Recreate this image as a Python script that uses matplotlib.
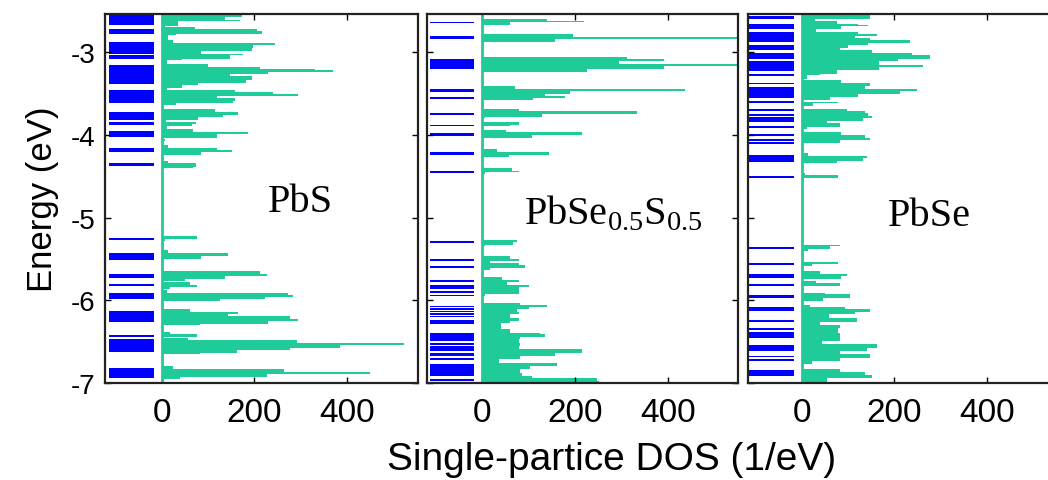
import numpy as np
import matplotlib
matplotlib.use("Agg")
import matplotlib.pyplot as plt

plt.rcParams['font.family'] = ['Liberation Sans', 'DejaVu Sans']
plt.rcParams['mathtext.fontset'] = 'custom'
plt.rcParams['mathtext.rm'] = 'Liberation Serif'
plt.rcParams['axes.unicode_minus'] = False

# ---- data (energies in eV, DOS in 1/eV) ----
names = ['PbS', r'PbSe$_{\mathrm{0.5}}$S$_{\mathrm{0.5}}$', 'PbSe']

# green DOS histograms: bin edges (top -> bottom) and values
pbs_edges = [-2.54, -2.578, -2.612, -2.622, -2.68, -2.70, -2.72, -2.745, -2.78, -2.80,
             -2.86, -2.885, -2.92, -2.95, -2.985, -3.02, -3.04, -3.08, -3.10, -3.14,
             -3.18, -3.20, -3.22, -3.245, -3.265, -3.285, -3.34, -3.37, -3.40, -3.43,
             -3.455, -3.48, -3.51, -3.53, -3.56, -3.59, -3.62, -3.64, -3.69, -3.72,
             -3.76, -3.79, -3.825, -3.845, -3.87, -3.90, -3.93, -3.965, -3.995, -4.035,
             -4.05, -4.075, -4.12, -4.155, -4.185, -4.21, -4.24, -4.32, -4.345, -4.385,
             -4.405, -5.22, -5.26, -5.28, -5.39, -5.43, -5.47, -5.50, -5.51, -5.65,
             -5.683, -5.71, -5.74, -5.765, -5.78, -5.81, -5.835, -5.86, -5.88, -5.91,
             -5.94, -5.965, -5.99, -6.012, -6.11, -6.14, -6.165, -6.193, -6.221, -6.253,
             -6.285, -6.30, -6.38, -6.414, -6.442, -6.454, -6.486, -6.514, -6.542, -6.574,
             -6.602, -6.634, -6.651, -6.795, -6.835, -6.863, -6.895, -6.924, -6.956, -7.0]
pbs_dos = [173, 137, 169, 36, 8, 72, 205, 216, 32, 14,
           25, 245, 198, 194, 86, 176, 147, 43, 11, 100,
           212, 331, 370, 230, 147, 194, 183, 79, 43, 11,
           158, 241, 295, 119, 158, 155, 32, 4, 115, 165,
           133, 79, 10, 75, 65, 11, 68, 187, 119, 0,
           7, 0, 14, 119, 151, 86, 0, 14, 75, 68,
           0, 76, 7, 0, 14, 144, 86, 5, 0, 212,
           227, 137, 50, 0, 61, 76, 18, 0, 11, 273,
           284, 223, 126, 0, 61, 165, 144, 277, 295, 230,
           83, 0, 18, 76, 0, 58, 291, 522, 385, 277,
           162, 83, 0, 25, 263, 450, 227, 40, 5]

mix_edges = [-2.54, -2.598, -2.63, -2.64, -2.679, -2.779, -2.819, -2.84, -2.88, -3.055,
             -3.06, -3.08, -3.108, -3.141, -3.169, -3.201, -3.241, -3.414, -3.442, -3.474,
             -3.502, -3.53, -3.554, -3.582, -3.683, -3.711, -3.755, -3.787, -3.80, -3.845,
             -3.851, -3.88, -3.90, -3.94, -3.97, -4.00, -4.036, -4.173, -4.205, -4.245,
             -4.273, -4.406, -4.434, -4.454, -4.47, -5.269, -5.297, -5.33, -5.35, -5.47,
             -5.498, -5.52, -5.55, -5.578, -5.61, -5.63, -5.723, -5.751, -5.78, -5.811,
             -5.843, -5.924, -5.95, -6.03, -6.06, -6.08, -6.11, -6.14, -6.17, -6.21,
             -6.245, -6.273, -6.35, -6.39, -6.414, -6.442, -6.474, -6.514, -6.554, -6.594,
             -6.634, -6.674, -6.714, -6.763, -6.795, -6.835, -6.875, -6.916, -6.944, -6.976,
             -7.0]
mix_dos = [0, 139, 218, 60, 0, 196, 600, 157, 0, 6,
           311, 390, 293, 600, 390, 225, 0, 71, 437, 189,
           135, 178, 110, 0, 78, 333, 128, 5, 0, 14,
           78, 60, 0, 50, 214, 107, 0, 32, 143, 57,
           0, 64, 78, 6, 0, 75, 67, 5, 0, 60,
           78, 17, 78, 92, 17, 0, 42, 78, 53, 100,
           78, 5, 0, 82, 139, 100, 75, 78, 60, 78,
           60, 40, 60, 125, 135, 82, 78, 82, 78, 214,
           157, 82, 35, 161, 103, 82, 85, 107, 247, 250]

pbse_edges = [-2.54, -2.558, -2.598, -2.63, -2.663, -2.675, -2.687, -2.727, -2.759, -2.779,
              -2.807, -2.831, -2.859, -2.888, -2.92, -2.952, -2.98, -3.012, -3.04, -3.08,
              -3.112, -3.153, -3.181, -3.221, -3.261, -3.281, -3.321, -3.341, -3.369, -3.41,
              -3.442, -3.474, -3.502, -3.542, -3.582, -3.602, -3.622, -3.65, -3.683, -3.715,
              -3.743, -3.771, -3.803, -3.835, -3.863, -3.904, -3.932, -3.972, -4.004, -4.036,
              -4.064, -4.104, -4.124, -4.225, -4.253, -4.285, -4.317, -4.345, -4.466, -4.486,
              -4.526, -4.546, -5.329, -5.349, -5.378, -5.402, -5.538, -5.562, -5.59, -5.651,
              -5.683, -5.71, -5.739, -5.771, -5.791, -5.831, -5.912, -5.924, -5.972, -6.012,
              -6.06, -6.084, -6.10, -6.141, -6.165, -6.213, -6.261, -6.30, -6.34, -6.394,
              -6.494, -6.534, -6.574, -6.614, -6.655, -6.695, -6.735, -6.775, -6.835, -6.867,
              -6.908, -6.936, -7.0]
pbse_dos = [0, 148, 29, 76, 122, 144, 86, 32, 122, 162,
            115, 148, 234, 144, 101, 83, 151, 238, 277, 209,
            166, 263, 166, 76, 40, 11, 0, 86, 148, 137,
            249, 213, 122, 61, 0, 79, 25, 0, 97, 137,
            144, 151, 133, 54, 83, 11, 0, 86, 137, 148,
            83, 5, 0, 14, 141, 133, 76, 0, 7, 79,
            5, 0, 83, 61, 14, 0, 79, 22, 0, 40,
            97, 86, 0, 30, 83, 0, 50, 105, 47, 0,
            18, 94, 148, 115, 60, 119, 40, 83, 79, 83,
            43, 162, 141, 83, 148, 83, 22, 0, 83, 137,
            151, 54]

# blue eigenvalue bands: (top, bottom) energies
pbs_levels = [(-2.538, -2.679), (-2.727, -2.779), (-2.88, -3.02), (-3.04, -3.08),
              (-3.16, -3.39), (-3.462, -3.622), (-3.723, -3.823), (-3.843, -3.876),
              (-3.952, -4.024), (-4.157, -4.205), (-4.345, -4.378),
              (-5.245, -5.262), (-5.43, -5.51), (-5.68, -5.73), (-5.807, -5.824),
              (-5.91, -5.98), (-6.13, -6.26), (-6.415, -6.44), (-6.47, -6.62), (-6.82, -6.94)]
mix_levels = [(-2.632, -2.646), (-2.811, -2.847), (-3.08, -3.209), (-3.442, -3.482),
              (-3.547, -3.561), (-3.731, -3.763), (-3.877, -3.891), (-3.984, -4.016),
              (-4.205, -4.245), (-4.439, -4.453),
              (-5.29, -5.305), (-5.503, -5.517), (-5.583, -5.597), (-5.755, -5.77),
              (-5.815, -5.83), (-5.844, -5.858), (-5.885, -5.90), (-5.932, -5.947),
              (-6.065, -6.079), (-6.093, -6.107), (-6.126, -6.14), (-6.158, -6.172),
              (-6.186, -6.20), (-6.233, -6.293), (-6.394, -6.494), (-6.515, -6.529),
              (-6.554, -6.614), (-6.635, -6.675), (-6.698, -6.712), (-6.775, -6.916),
              (-6.95, -6.964)]
pbse_levels = [(-2.57, -2.60), (-2.66, -2.72), (-2.76, -2.88), (-2.91, -2.98),
               (-3.01, -3.08), (-3.11, -3.23), (-3.263, -3.277), (-3.37, -3.39),
               (-3.42, -3.56), (-3.593, -3.607), (-3.69, -3.71), (-3.748, -3.762),
               (-3.79, -3.84), (-3.893, -3.907), (-3.993, -4.007), (-4.049, -4.063),
               (-4.093, -4.107), (-4.25, -4.33), (-4.503, -4.517),
               (-5.354, -5.368), (-5.555, -5.569), (-5.683, -5.731), (-5.804, -5.818),
               (-5.932, -5.972), (-6.084, -6.133), (-6.238, -6.252), (-6.341, -6.365),
               (-6.382, -6.462), (-6.542, -6.614), (-6.668, -6.682), (-6.708, -6.722),
               (-6.847, -6.916)]

edges_all = [pbs_edges, mix_edges, pbse_edges]
dos_all = [pbs_dos, mix_dos, pbse_dos]
levels_all = [pbs_levels, mix_levels, pbse_levels]

green = '#1fcc99'
blue = '#0000ff'

fig = plt.figure(figsize=(10.48, 4.81), dpi=100)
boxes = [[0.1002, 0.2017, 0.2987, 0.7672],
         [0.4074, 0.2017, 0.2968, 0.7672],
         [0.7137, 0.2017, 0.2987, 0.7672]]
xlims = [(-122, 553), (-119, 550), (-116, 560)]
label_pos = [(0.623, 0.493), (0.598, 0.463), (0.581, 0.455)]

for i in range(3):
    ax = fig.add_axes(boxes[i])
    e = np.array(edges_all[i])[::-1]
    d = np.array(dos_all[i])[::-1]
    # histogram as one filled step outline
    ax.stairs(d, e, orientation='horizontal', fill=True, baseline=0,
              color=green, linewidth=0)
    lv = np.array(levels_all[i])
    # thin levels get a minimum drawn thickness so they read as ~2 px lines
    thick = np.maximum(lv[:, 0] - lv[:, 1], 0.022)
    ax.barh(lv[:, 0], 96, height=-thick, left=-113, align='edge',
            color=blue, linewidth=0)
    ax.axvline(0, color=green, lw=2)
    ax.set_xlim(*xlims[i])
    ax.set_ylim(-7, -2.54)
    ax.set_xticks([0, 200, 400])
    ax.set_yticks([-7, -6, -5, -4, -3])
    ax.tick_params(direction='in', top=True, right=True, length=4, width=1,
                   pad=10)
    ax.tick_params(axis='x', labelsize=24)
    ax.tick_params(axis='y', labelsize=20, pad=7)
    if i > 0:
        ax.set_yticklabels([])
    else:
        ax.set_ylabel('Energy (eV)', fontsize=25, labelpad=8)
    for s in ax.spines.values():
        s.set_linewidth(1.6)
        s.set_color('#222222')
    ax.text(label_pos[i][0], label_pos[i][1], names[i], transform=ax.transAxes,
            ha='center', va='center', fontsize=29, family='Liberation Serif')

fig.text(0.584, 0.044, 'Single-partice DOS (1/eV)', ha='center', va='center',
         fontsize=28)

fig.savefig('out.png', dpi=100)
